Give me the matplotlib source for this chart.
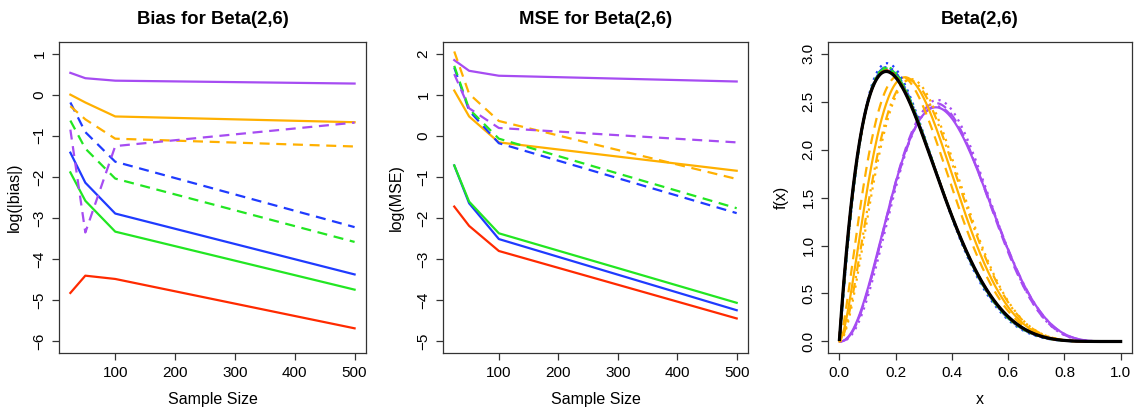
import math
import numpy as np
import matplotlib
matplotlib.use("Agg")
import matplotlib.pyplot as plt

plt.rcParams['font.family'] = ['Liberation Sans', 'DejaVu Sans']

# sample sizes used in the simulation
n = [25, 50, 100, 500]

# colours of the five estimators
col = {'red': '#FF2A00', 'blue': '#1F3BFF', 'green': '#22E622',
       'orange': '#FFB000', 'purple': '#A64CF2'}

# log(|bias|) values
bias_red = [-4.82, -4.40, -4.48, -5.68]
bias_blue = [-1.41, -2.14, -2.89, -4.37]
bias_green = [-1.89, -2.58, -3.33, -4.74]
bias_orange = [0.0, -0.19, -0.53, -0.67]
bias_purple = [0.53, 0.40, 0.34, 0.27]
bias_blue_d = [-0.19, -0.91, -1.63, -3.22]
bias_green_d = [-0.63, -1.31, -2.04, -3.58]
bias_orange_d = [-0.28, -0.60, -1.07, -1.26]
bias_purple_d = [-0.85, -3.35, -1.25, -0.68]

# log(MSE) values
mse_red = [-1.72, -2.19, -2.80, -4.44]
mse_blue = [-0.72, -1.64, -2.51, -4.24]
mse_green = [-0.72, -1.60, -2.37, -4.06]
mse_orange = [1.10, 0.47, -0.16, -0.85]
mse_purple = [1.84, 1.58, 1.46, 1.32]
mse_blue_d = [1.66, 0.61, -0.18, -1.88]
mse_green_d = [1.70, 0.65, -0.07, -1.76]
mse_orange_d = [2.05, 1.02, 0.36, -1.05]
mse_purple_d = [1.50, 0.67, 0.19, -0.16]

# fitted Beta(a, b) parameters per estimator, one per line type
# (solid, dashed, dotted, dot-dash)
fit_red = [(2.0, 6.0), (2.01, 6.03), (2.02, 6.06), (2.01, 6.04)]
fit_green = [(2.01, 6.03), (2.03, 6.1), (2.06, 6.22), (2.04, 6.15)]
fit_blue = [(2.01, 6.04), (2.04, 6.15), (2.1, 6.4), (2.06, 6.22)]
fit_orange = [(2.7, 6.6), (2.5, 6.5), (2.95, 6.7), (2.85, 6.6)]
fit_purple = [(3.4, 5.6), (3.5, 5.8), (3.65, 5.95), (3.45, 5.65)]

ltys = ['-', (0, (4.5, 3)), (0, (1, 2.2)), (0, (1, 2.2, 4.5, 2.2))]


def dbeta(x, a, b):
    lb = math.lgamma(a) + math.lgamma(b) - math.lgamma(a + b)
    return np.exp((a - 1) * np.log(x) + (b - 1) * np.log1p(-x) - lb)


def r_axes(ax):
    for s in ax.spines.values():
        s.set_linewidth(0.9)
        s.set_color('#333333')
    ax.tick_params(direction='out', length=5, width=0.9, labelsize=11,
                   color='#333333', pad=4)
    for lab in ax.get_yticklabels():
        lab.set_rotation(90)
        lab.set_va('center')


fig = plt.figure(figsize=(11.39, 4.09), dpi=100)
ax1 = fig.add_axes([0.0518, 0.1369, 0.2695, 0.7604])
ax2 = fig.add_axes([0.3889, 0.1369, 0.2678, 0.7604])
ax3 = fig.add_axes([0.7270, 0.1369, 0.2669, 0.7604])

lw = 1.6
dash = (0, (4.5, 3))
tsize = 13.3

# bias panel
for y, c in [(bias_purple, 'purple'), (bias_orange, 'orange'), (bias_red, 'red'),
             (bias_blue, 'blue'), (bias_green, 'green')]:
    ax1.plot(n, y, color=col[c], lw=lw)
for y, c in [(bias_blue_d, 'blue'), (bias_green_d, 'green'),
             (bias_orange_d, 'orange'), (bias_purple_d, 'purple')]:
    ax1.plot(n, y, color=col[c], lw=lw, ls=dash)
ax1.set_xlim(6, 519)
ax1.set_ylim(-6.28, 1.28)
ax1.set_xticks([100, 200, 300, 400, 500])
ax1.set_yticks(range(-6, 2))
ax1.set_title('Bias for Beta(2,6)', fontsize=tsize, fontweight='bold', pad=13)
ax1.set_xlabel('Sample Size', fontsize=11.5, labelpad=9)
ax1.set_ylabel('log(|bias|)', fontsize=11.5, labelpad=8)
r_axes(ax1)

# MSE panel
for y, c in [(mse_purple, 'purple'), (mse_orange, 'orange'), (mse_red, 'red'),
             (mse_blue, 'blue'), (mse_green, 'green')]:
    ax2.plot(n, y, color=col[c], lw=lw)
for y, c in [(mse_blue_d, 'blue'), (mse_green_d, 'green'),
             (mse_orange_d, 'orange'), (mse_purple_d, 'purple')]:
    ax2.plot(n, y, color=col[c], lw=lw, ls=dash)
ax2.set_xlim(6, 519)
ax2.set_ylim(-5.28, 2.28)
ax2.set_xticks([100, 200, 300, 400, 500])
ax2.set_yticks(range(-5, 3))
ax2.set_title('MSE for Beta(2,6)', fontsize=tsize, fontweight='bold', pad=13)
ax2.set_xlabel('Sample Size', fontsize=11.5, labelpad=9)
ax2.set_ylabel('log(MSE)', fontsize=11.5, labelpad=9)
r_axes(ax2)

# density panel
x = np.linspace(0.0005, 0.9995, 500)
for fits, c in [(fit_purple, 'purple'), (fit_orange, 'orange'), (fit_blue, 'blue'),
                (fit_green, 'green'), (fit_red, 'red')]:
    for (a, b), ls in zip(fits, ltys):
        ax3.plot(x, dbeta(x, a, b), color=col[c], lw=lw, ls=ls)
ax3.plot(x, dbeta(x, 2, 6), color='black', lw=2.3)
ax3.set_xlim(-0.04, 1.04)
ax3.set_ylim(-0.12, 3.12)
ax3.set_xticks(np.arange(0, 1.01, 0.2))
ax3.set_xticklabels(['0.0', '0.2', '0.4', '0.6', '0.8', '1.0'])
ax3.set_yticks(np.arange(0, 3.01, 0.5))
ax3.set_yticklabels(['0.0', '0.5', '1.0', '1.5', '2.0', '2.5', '3.0'])
ax3.set_title('Beta(2,6)', fontsize=tsize, fontweight='bold', pad=13)
ax3.set_xlabel('x', fontsize=11.5, labelpad=9)
ax3.set_ylabel('f(x)', fontsize=11.5, labelpad=9)
r_axes(ax3)

fig.savefig('out.png', dpi=100)
